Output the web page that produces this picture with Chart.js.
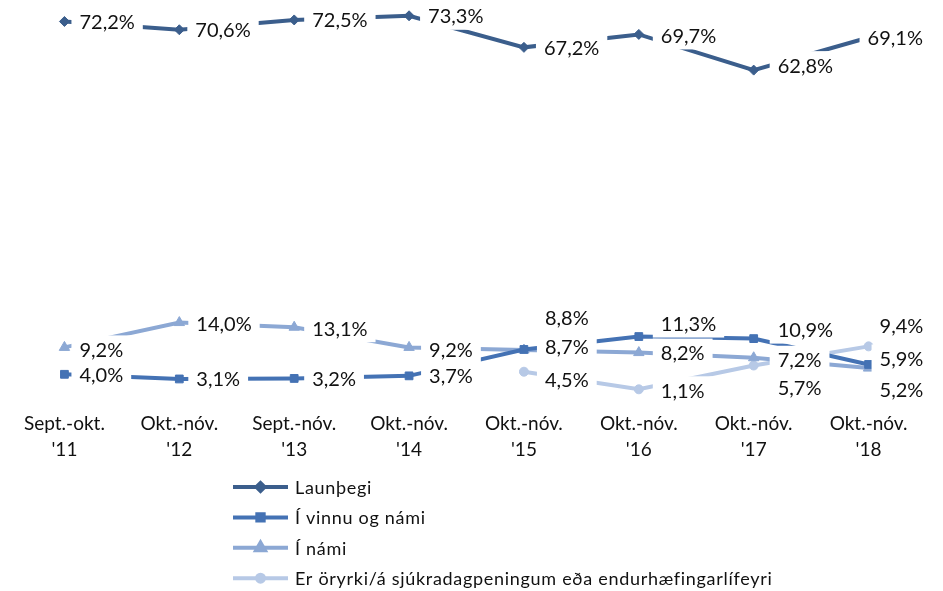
<!DOCTYPE html>
<html><head><meta charset="utf-8">
<script src="https://cdn.jsdelivr.net/npm/chart.js@4.4.1/dist/chart.umd.min.js"></script>
<style>html,body{margin:0;padding:0;background:#fff;} canvas{display:block;}</style>
</head><body>
<canvas id="c" width="943" height="591"></canvas>
<script>
const categories = [['Sept.-okt.', "'11"], ['Okt.-nóv.', "'12"], ['Sept.-nóv.', "'13"], ['Okt.-nóv.', "'14"], ['Okt.-nóv.', "'15"], ['Okt.-nóv.', "'16"], ['Okt.-nóv.', "'17"], ['Okt.-nóv.', "'18"]];
const launthegi = [72.2, 70.6, 72.5, 73.3, 67.2, 69.7, 62.8, 69.1];
const vinnuOgNami = [4.0, 3.1, 3.2, 3.7, 8.8, 11.3, 10.9, 5.9];
const iNami = [9.2, 14.0, 13.1, 9.2, 8.7, 8.2, 7.2, 5.2];
const oryrki = [null, null, null, null, 4.5, 1.1, 5.7, 9.4];
const seriesNames = ['Launþegi', 'Í vinnu og námi', 'Í námi', 'Er öryrki/á sjúkradagpeningum eða endurhæfingarlífeyri'];

// label placement (pixel offsets from each point), styling only
const labelOffsets = [
  [[15,0],[16,0],[18,0],[19,0],[20,0],[22,1],[24,-5],[-1,0]],
  [[15,0],[17,0],[18,0],[20,0],[21,-32],[22,-13],[24,-9],[11,-6]],
  [[15,2],[17,1],[18,1],[20,2],[21,-3],[22,0],[24,2],[11,21]],
  [null,null,null,null,[21,8],[22,1],[24,22],[11,-21]]
];

const pointLabelPlugin = {
  id: 'pointLabels',
  afterDatasetsDraw(chart, args, opts) {
    const ctx = chart.ctx;
    ctx.save();
    ctx.font = opts.font;
    ctx.textBaseline = 'middle';
    ctx.textAlign = 'left';
    const items = [];
    chart.data.datasets.forEach((ds, di) => {
      const meta = chart.getDatasetMeta(di);
      meta.data.forEach((pt, i) => {
        const v = ds.data[i];
        if (v === null || v === undefined) return;
        const off = (opts.offsets[di] && opts.offsets[di][i]) || [17, 0];
        const txt = v.toFixed(1).replace('.', ',') + '%';
        const w = ctx.measureText(txt).width;
        items.push({ x: pt.x + off[0], y: pt.y + off[1], w, txt });
      });
    });
    ctx.fillStyle = '#fff';
    items.forEach(it => ctx.fillRect(it.x - opts.padX, it.y - opts.halfH, it.w + 2 * opts.padX, 2 * opts.halfH));
    ctx.fillStyle = opts.color;
    items.forEach(it => ctx.fillText(it.txt, it.x, it.y + 1));
    ctx.restore();
  }
};

const lineLegendPlugin = {
  id: 'lineLegend',
  afterDraw(chart, args, opts) {
    const ctx = chart.ctx;
    ctx.save();
    chart.data.datasets.forEach((ds, i) => {
      const y = opts.y0 + i * opts.dy;
      ctx.strokeStyle = ds.borderColor;
      ctx.lineWidth = ds.borderWidth;
      ctx.beginPath();
      ctx.moveTo(opts.x0, y);
      ctx.lineTo(opts.x0 + opts.len, y);
      ctx.stroke();
      ctx.fillStyle = ds.pointBackgroundColor;
      ctx.strokeStyle = ds.pointBorderColor;
      Chart.helpers.drawPoint(ctx, { pointStyle: ds.pointStyle, radius: ds.pointRadius - 1, borderWidth: 1, rotation: 0 }, opts.x0 + opts.len / 2, y);
      ctx.font = opts.font;
      if ('letterSpacing' in ctx) ctx.letterSpacing = opts.letterSpacing;
      ctx.fillStyle = opts.color;
      ctx.textBaseline = 'middle';
      ctx.textAlign = 'left';
      ctx.fillText(ds.label, opts.x0 + opts.len + 7, y + 1);
      if ('letterSpacing' in ctx) ctx.letterSpacing = '0px';
    });
    ctx.restore();
  }
};

const colors = ['#3B5E8C', '#4472B4', '#8CA8D4', '#B7C9E6'];
const styles = ['rectRot', 'rect', 'triangle', 'circle'];
const radii = [5, 5.5, 6, 4.5];
const seriesData = [launthegi, vinnuOgNami, iNami, oryrki];

new Chart(document.getElementById('c'), {
  type: 'line',
  data: {
    labels: categories,
    datasets: seriesData.map((d, i) => ({
      label: seriesNames[i],
      data: d,
      borderColor: colors[i],
      backgroundColor: colors[i],
      pointBackgroundColor: colors[i],
      pointBorderColor: colors[i],
      pointStyle: styles[i],
      pointRadius: radii[i],
      pointBorderWidth: 1,
      borderWidth: 4,
      tension: 0,
      spanGaps: false,
      fill: false
    }))
  },
  options: {
    responsive: false,
    devicePixelRatio: 1,
    animation: false,
    layout: { padding: { left: 0, right: 17, top: 6, bottom: 126 } },
    scales: {
      x: {
        offset: true,
        grid: { display: false, drawTicks: false },
        border: { display: false },
        ticks: { color: '#111', font: { family: 'Lato', size: 19, lineHeight: 1.35 }, padding: 16, maxRotation: 0, autoSkip: false },
        afterFit: s => { s.height = 70; }
      },
      y: { display: false, min: 0, max: 75 }
    },
    plugins: {
      legend: { display: false },
      tooltip: { enabled: false },
      pointLabels: { font: '20px Lato', color: '#111', padX: 8, halfH: 14, offsets: labelOffsets },
      lineLegend: { x0: 233, len: 55, y0: 487, dy: 30.4, font: '18px Lato', letterSpacing: '0.7px', color: '#111' }
    }
  },
  plugins: [pointLabelPlugin, lineLegendPlugin]
});
</script>
</body></html>
